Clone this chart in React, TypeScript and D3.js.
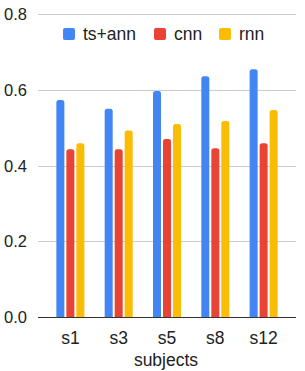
import React, { useEffect, useRef } from 'react';
import * as d3 from 'd3';

const width = 305;
const height = 371;

const subjects = ['s1', 's3', 's5', 's8', 's12'];
const seriesNames = ['ts+ann', 'cnn', 'rnn'];
const tsAnn = [0.573, 0.55, 0.597, 0.636, 0.654];
const cnn = [0.443, 0.443, 0.47, 0.446, 0.459];
const rnn = [0.459, 0.493, 0.51, 0.518, 0.547];
const yTicks = [0, 0.2, 0.4, 0.6, 0.8];
const colors = ['#4285F4', '#EA4335', '#FBBC04'];

const font = 'Arial, "Liberation Sans", sans-serif';

export default function App() {
  const ref = useRef<SVGSVGElement>(null);

  useEffect(() => {
    const svg = d3.select(ref.current);
    svg.selectAll('*').remove();

    const x = d3.scaleBand().domain(subjects).range([38, 296]).paddingOuter(0.17).paddingInner(0);
    const y = d3.scaleLinear().domain([0, 0.8]).range([317.3, 14]);
    const inner = d3.scaleBand().domain(seriesNames).range([-14, 14]).paddingInner(0.2);

    // gridlines + y labels
    svg.append('g')
      .selectAll('line')
      .data(yTicks.slice(1))
      .enter()
      .append('line')
      .attr('x1', 38)
      .attr('x2', 296)
      .attr('y1', d => Math.round(y(d)) + 0.5)
      .attr('y2', d => Math.round(y(d)) + 0.5)
      .attr('stroke', '#cccccc');

    svg.append('g')
      .selectAll('text')
      .data(yTicks)
      .enter()
      .append('text')
      .attr('x', 27)
      .attr('y', d => y(d) + 6)
      .attr('text-anchor', 'end')
      .style('font-family', font)
      .style('font-size', '16.5px')
      .attr('fill', '#222')
      .text(d => d3.format('.1f')(d));

    // bars
    const data = [tsAnn, cnn, rnn];
    const groups = svg.append('g')
      .selectAll('g')
      .data(subjects)
      .enter()
      .append('g')
      .attr('transform', d => `translate(${(x(d) as number) + x.bandwidth() / 2},0)`);

    groups.selectAll('path')
      .data((_, i) => seriesNames.map((s, k) => ({ s, v: data[k][i], k })))
      .enter()
      .append('path')
      .attr('fill', d => colors[d.k])
      .attr('d', d => {
        const x0 = inner(d.s) as number;
        const w = inner.bandwidth();
        const top = y(d.v);
        const bottom = y(0);
        const r = 2.5;
        return `M${x0},${bottom}V${top + r}Q${x0},${top} ${x0 + r},${top}H${x0 + w - r}Q${x0 + w},${top} ${x0 + w},${top + r}V${bottom}Z`;
      });

    // baseline
    svg.append('line')
      .attr('x1', 38)
      .attr('x2', 296)
      .attr('y1', Math.round(y(0)) + 0.5)
      .attr('y2', Math.round(y(0)) + 0.5)
      .attr('stroke', '#333');

    // x labels
    svg.append('g')
      .selectAll('text')
      .data(subjects)
      .enter()
      .append('text')
      .attr('x', d => (x(d) as number) + x.bandwidth() / 2)
      .attr('y', 344)
      .attr('text-anchor', 'middle')
      .style('font-family', font)
      .style('font-size', '17.5px')
      .attr('fill', '#222')
      .text(d => d);

    svg.append('text')
      .attr('x', 166)
      .attr('y', 366)
      .attr('text-anchor', 'middle')
      .style('font-family', font)
      .style('font-size', '17.5px')
      .attr('fill', '#222')
      .text('subjects');

    // legend
    const legendX = [63, 154, 219];
    const legend = svg.append('g')
      .selectAll('g')
      .data(seriesNames)
      .enter()
      .append('g')
      .attr('transform', (_, i) => `translate(${legendX[i]},28)`);
    legend.append('rect')
      .attr('width', 12)
      .attr('height', 12)
      .attr('rx', 2)
      .attr('fill', (_, i) => colors[i]);
    legend.append('text')
      .attr('x', 20)
      .attr('y', 11.5)
      .style('font-family', font)
      .style('font-size', '17.5px')
      .attr('fill', '#222')
      .text(d => d);
  }, []);

  return (
    <div style={{ position: 'absolute', left: 0, top: 0, background: '#fff' }}>
      <svg ref={ref} width={width} height={height} style={{ display: 'block' }} />
    </div>
  );
}
